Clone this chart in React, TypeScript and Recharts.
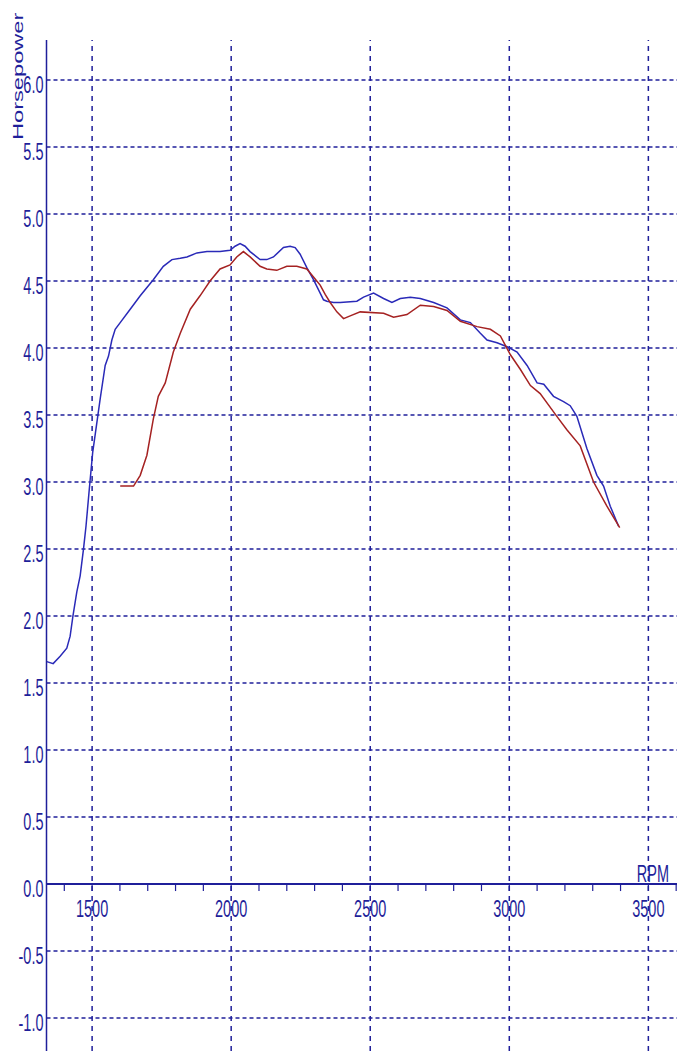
import React from 'react';
import { LineChart, Line, XAxis, YAxis, ReferenceLine, ReferenceDot } from 'recharts';

const blueRpm = [1337, 1360, 1385, 1409, 1421, 1431, 1445, 1457, 1469, 1478, 1490, 1502, 1529, 1547, 1559, 1571, 1583, 1601, 1637, 1673, 1720, 1756, 1787, 1817, 1841, 1877, 1913, 1960, 1996, 2014, 2032, 2050, 2068, 2104, 2128, 2152, 2188, 2212, 2230, 2248, 2272, 2296, 2320, 2332, 2344, 2368, 2392, 2452, 2476, 2512, 2548, 2578, 2608, 2644, 2680, 2728, 2776, 2824, 2860, 2896, 2920, 2956, 2992, 3028, 3064, 3100, 3124, 3159, 3195, 3219, 3243, 3279, 3315, 3339, 3363, 3393];
const blueHp = [1.66, 1.645, 1.7, 1.76, 1.85, 2.0, 2.18, 2.3, 2.5, 2.67, 2.95, 3.22, 3.62, 3.87, 3.94, 4.06, 4.14, 4.19, 4.29, 4.39, 4.51, 4.61, 4.66, 4.67, 4.68, 4.71, 4.72, 4.72, 4.73, 4.76, 4.78, 4.76, 4.72, 4.66, 4.66, 4.68, 4.75, 4.76, 4.75, 4.7, 4.6, 4.51, 4.41, 4.36, 4.35, 4.34, 4.34, 4.35, 4.38, 4.41, 4.37, 4.34, 4.37, 4.38, 4.37, 4.34, 4.3, 4.21, 4.19, 4.11, 4.06, 4.04, 4.01, 3.97, 3.87, 3.74, 3.73, 3.64, 3.6, 3.57, 3.49, 3.25, 3.05, 2.97, 2.82, 2.67];

const redRpm = [1601, 1649, 1673, 1697, 1720, 1738, 1763, 1792, 1817, 1853, 1888, 1924, 1960, 1996, 2020, 2044, 2068, 2104, 2128, 2164, 2200, 2236, 2272, 2296, 2320, 2338, 2356, 2380, 2404, 2428, 2464, 2548, 2584, 2632, 2680, 2728, 2776, 2824, 2884, 2932, 2968, 3004, 3040, 3076, 3111, 3171, 3207, 3255, 3303, 3351, 3397];
const redHp = [2.97, 2.97, 3.05, 3.2, 3.47, 3.64, 3.74, 3.97, 4.11, 4.29, 4.39, 4.5, 4.59, 4.62, 4.68, 4.72, 4.68, 4.61, 4.59, 4.58, 4.61, 4.61, 4.59, 4.53, 4.47, 4.4, 4.34, 4.27, 4.22, 4.24, 4.27, 4.26, 4.23, 4.25, 4.32, 4.31, 4.28, 4.2, 4.16, 4.14, 4.09, 3.95, 3.84, 3.72, 3.66, 3.49, 3.39, 3.27, 3.0, 2.82, 2.66];

const yTicks = [-1, -0.5, 0, 0.5, 1, 1.5, 2, 2.5, 3, 3.5, 4, 4.5, 5, 5.5, 6];
const yGrid = [-1, -0.5, 0.5, 1, 1.5, 2, 2.5, 3, 3.5, 4, 4.5, 5, 5.5, 6];
const xMajor = [1500, 2000, 2500, 3000, 3500];
const xMinor = [1400, 1500, 1600, 1700, 1800, 1900, 2000, 2100, 2200, 2300, 2400, 2500, 2600, 2700, 2800, 2900, 3000, 3100, 3200, 3300, 3400, 3500, 3600];

const blueData = blueRpm.map((rpm, i) => ({ rpm, hp: blueHp[i] }));
const redData = redRpm.map((rpm, i) => ({ rpm, hp: redHp[i] }));

const NAVY = '#1f1f9a';
const FONT = 'Liberation Sans, Arial, sans-serif';
const FS = 14.5;
const SY = 1.63;

const YTick = (props: any) => {
  const { x, y, payload } = props;
  return (
    <text
      transform={`translate(${x},${y + 12.5}) scale(1,${SY})`}
      textAnchor="end"
      fontFamily={FONT}
      fontSize={FS}
      fill={NAVY}
    >
      {Number(payload.value).toFixed(1)}
    </text>
  );
};

const MinorTick = (props: any) => {
  const { cx, cy } = props;
  return <line x1={cx} y1={cy} x2={cx} y2={cy + 7} stroke={NAVY} strokeWidth={1.2} />;
};

const MajorLabel = (label: string) => (props: any) => {
  const { cx, cy } = props;
  return (
    <text
      transform={`translate(${cx},${cy + 33}) scale(1,${SY})`}
      textAnchor="middle"
      fontFamily={FONT}
      fontSize={FS}
      fill={NAVY}
    >
      {label}
    </text>
  );
};

const RpmLabel = (props: any) => {
  const { cx, cy } = props;
  return (
    <text
      transform={`translate(${cx + 4.5},${cy - 2.5}) scale(1,${SY})`}
      textAnchor="middle"
      fontFamily={FONT}
      fontSize={FS}
      fill={NAVY}
    >
      RPM
    </text>
  );
};

const HpLabel = (props: any) => {
  const vb = props.viewBox || { x: 0, y: 40 };
  return (
    <text
      transform={`translate(${vb.x + 22.7},${vb.y + 100}) scale(1,${SY}) rotate(-90)`}
      textAnchor="start"
      fontFamily={FONT}
      fontSize={FS}
      fill={NAVY}
    >
      Horsepower
    </text>
  );
};

export default function App() {
  return (
    <div style={{ position: 'absolute', left: 0, top: 0, width: 677, height: 1051, background: '#fff' }}>
      <LineChart width={677} height={1051} margin={{ top: 40, right: 0, bottom: 0, left: 0 }}>
        <XAxis type="number" dataKey="rpm" domain={[1336, 3603]} allowDataOverflow hide />
        <YAxis
          type="number"
          domain={[-1.246, 6.299]}
          allowDataOverflow
          ticks={yTicks}
          interval={0}
          width={46.5}
          tickSize={0}
          tickMargin={3}
          tickLine={false}
          axisLine={{ stroke: NAVY, strokeWidth: 1.5 }}
          tick={<YTick />}
          label={<HpLabel />}
        />
        {yGrid.map((v) => (
          <ReferenceLine key={'h' + v} y={v} stroke={NAVY} strokeWidth={1.5} strokeDasharray="4 3" />
        ))}
        {xMajor.map((v) => (
          <ReferenceLine key={'v' + v} x={v} stroke={NAVY} strokeWidth={1.5} strokeDasharray="5 5" />
        ))}
        <ReferenceLine y={0} stroke={NAVY} strokeWidth={2} />
        {xMinor.map((v) => (
          <ReferenceDot key={'t' + v} x={v} y={0} r={0} shape={MinorTick} />
        ))}
        {xMajor.map((v) => (
          <ReferenceDot key={'l' + v} x={v} y={0} r={0} shape={MajorLabel(String(v))} />
        ))}
        <ReferenceDot x={3500} y={0} r={0} shape={RpmLabel} />
        <Line data={blueData} dataKey="hp" type="linear" stroke="#2a2ab8" strokeWidth={1.5} dot={false} isAnimationActive={false} />
        <Line data={redData} dataKey="hp" type="linear" stroke="#a52222" strokeWidth={1.5} dot={false} isAnimationActive={false} />
      </LineChart>
    </div>
  );
}
